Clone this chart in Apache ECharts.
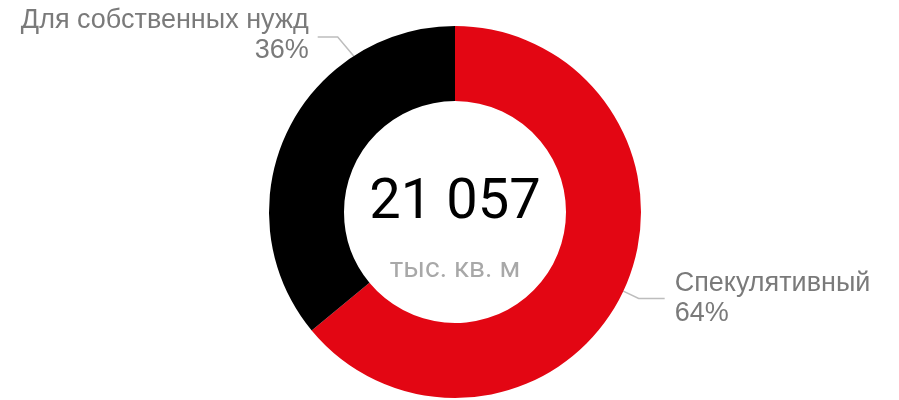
<!DOCTYPE html>
<html>
<head>
<meta charset="utf-8">
<script src="https://cdn.jsdelivr.net/npm/echarts@6/dist/echarts.min.js"></script>
<style>
  html, body { margin: 0; padding: 0; background: #fff; }
  #chart { width: 899px; height: 400px; }
</style>
</head>
<body>
<div id="chart"></div>
<script>
// данные
var categories = ['Спекулятивный', 'Для собственных нужд'];
var values = [64, 36];
var totalValue = '21 057';
var totalUnit = 'тыс. кв. м';

var palette = ['#e30613', '#000000'];

var cx = 455, cy = 212, rOuter = 186, rInner = 111;

var myChart = echarts.init(document.getElementById('chart'));

var pieData = [];
for (var i = 0; i < categories.length; i++) {
  pieData.push({ name: categories[i], value: values[i], itemStyle: { color: palette[i] } });
}

var option = {
  animation: false,
  series: [
    {
      type: 'pie',
      center: [cx, cy],
      radius: [rInner, rOuter],
      startAngle: 90,
      clockwise: true,
      avoidLabelOverlap: false,
      data: pieData,
      label: {
        show: true,
        formatter: '{b}\n{c}%',
        fontFamily: 'Liberation Sans, Arial, sans-serif',
        fontSize: 27,
        lineHeight: 30,
        color: '#7a7a7a',
        distanceToLabelLine: 10
      },
      labelLine: {
        show: true,
        length: 17,
        length2: 26,
        lineStyle: { color: '#bdbdbd', width: 1.5 }
      },
      labelLayout: function (params) {
        // левая подпись вынесена наверх
        if (params.dataIndex !== 1) return {};
        var a = 327 * Math.PI / 180;
        var p0 = [cx + rOuter * Math.sin(a), cy - rOuter * Math.cos(a)];
        var p1 = [p0[0] - 16, 37];
        var p2 = [p1[0] - 20, 37];
        return {
          x: p2[0] - 9,
          y: 36,
          align: 'right',
          verticalAlign: 'middle',
          labelLinePoints: [p0, p1, p2]
        };
      }
    }
  ],
  graphic: [
    {
      type: 'text',
      x: cx,
      y: 204,
      style: {
        text: totalValue,
        fill: '#000',
        font: '56px Roboto, sans-serif',
        textAlign: 'center',
        textVerticalAlign: 'middle'
      }
    },
    {
      type: 'text',
      x: cx,
      y: 270,
      style: {
        text: totalUnit,
        fill: '#a8a8a8',
        font: '28px Roboto, sans-serif',
        textAlign: 'center',
        textVerticalAlign: 'middle'
      }
    }
  ]
};
myChart.setOption(option);
</script>
</body>
</html>
